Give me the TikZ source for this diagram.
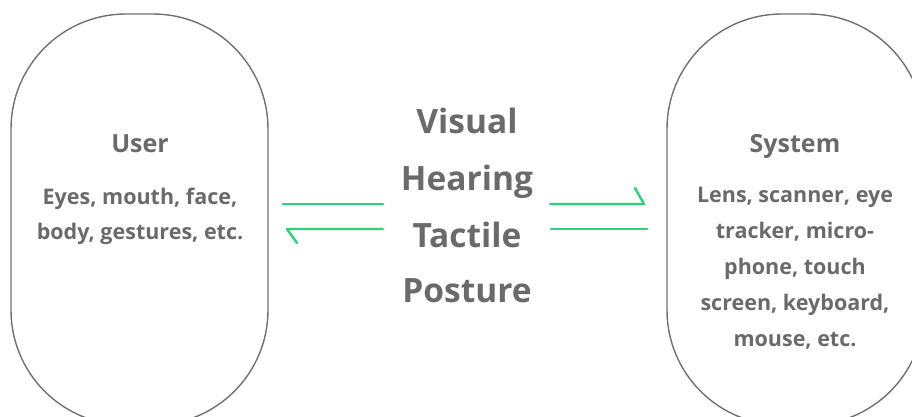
\documentclass[tikz,border=0pt]{standalone}
\usepackage{fontspec}
\setmainfont{Open Sans}
\usetikzlibrary{positioning}
\definecolor{txtgray}{HTML}{6A6A6A}
\definecolor{linegray}{HTML}{707070}
\definecolor{arrgreen}{HTML}{2BD27A}

\begin{document}
\begin{tikzpicture}[x=1pt,y=-1pt,
	box/.style={draw=linegray, line width=1.4pt, rounded corners=115pt,
		minimum width=257pt, minimum height=411pt, inner sep=0pt},
	head/.style={text=txtgray, font=\bfseries\fontsize{25}{30}\selectfont, anchor=base},
	body/.style={text=txtgray, font=\bfseries\fontsize{21.5}{26}\selectfont, anchor=base},
	big/.style={text=txtgray, font=\bfseries\fontsize{33.5}{40}\selectfont, anchor=base},
	link/.style={draw=arrgreen, line width=2.4pt, line cap=round, line join=round}]
	\useasboundingbox (0,0) rectangle (912,417);
	\clip (0,0) rectangle (912,417);

	% Draw the two rounded boxes
	\node[box] (user) at (139.5,219.5) {};
	\node[box] (system) at (795.5,219.5) {};

	% User side
	\node[head] (userhead) at (140,152) {User};
	\node[body] (userl1) at (140,204) {Eyes, mouth, face,};
	\node[body] (userl2) at (140,239) {body, gestures, etc.};

	% System side
	\node[head] (syshead) at (795,152) {System};
	\node[body] (sysl1) at (795,202) {Lens, scanner, eye};
	\node[body] (sysl2) at (795,238) {tracker, micro-};
	\node[body] (sysl3) at (795,274) {phone, touch};
	\node[body] (sysl4) at (795,310) {screen, keyboard,};
	\node[body] (sysl5) at (795,346) {mouse, etc.};

	% Channels in the middle
	\node[big] (visual) at (467,133) {Visual};
	\node[big] (hearing) at (467,190) {Hearing};
	\node[big] (tactile) at (467,247) {Tactile};
	\node[big] (posture) at (467,302) {Posture};

	% Half arrows, left pair
	\coordinate (la1) at (283,204);
	\coordinate (la2) at (383,204);
	\coordinate (lb1) at (383,229);
	\coordinate (lb2) at (287,229);
	\coordinate (lbtip) at (297,243);
	\draw[link] (la1) -- (la2);
	\draw[link] (lb1) -- (lb2) -- (lbtip);

	% Half arrows, right pair
	\coordinate (ra1) at (550,204);
	\coordinate (ra2) at (644,204);
	\coordinate (ratip) at (635,188);
	\coordinate (rb1) at (551,229);
	\coordinate (rb2) at (647,229);
	\draw[link] (ra1) -- (ra2) -- (ratip);
	\draw[link] (rb1) -- (rb2);

\end{tikzpicture}
\end{document}
